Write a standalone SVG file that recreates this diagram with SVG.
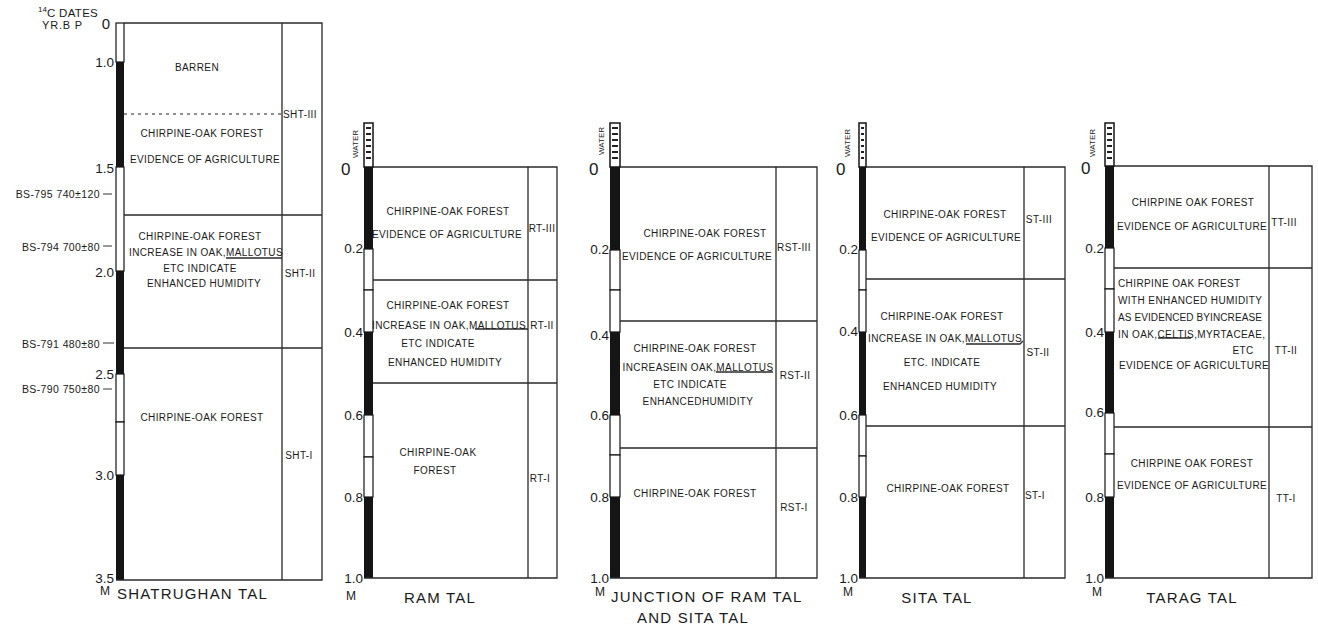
<svg xmlns="http://www.w3.org/2000/svg" width="1318" height="627" viewBox="0 0 1318 627">
<style>
.t{font-family:"Liberation Sans",Arial,sans-serif;font-size:10px;letter-spacing:0.4px;fill:#1a1a1a}
.m{text-anchor:middle}
.e{text-anchor:end}
.d{font-size:10.5px;letter-spacing:0.4px}
.ax{font-family:"Liberation Sans",Arial,sans-serif;font-size:13.5px;fill:#1a1a1a;text-anchor:end}
.z{font-family:"Liberation Sans",Arial,sans-serif;font-size:17px;fill:#1a1a1a}
.w{font-family:"Liberation Sans",Arial,sans-serif;font-size:8px;fill:#1a1a1a;text-anchor:middle}
.ttl{font-family:"Liberation Sans",Arial,sans-serif;font-size:15px;letter-spacing:1.2px;fill:#1a1a1a}
.ln{stroke:#2a2a2a;stroke-width:1.3;fill:none}
.blk{fill:#151515}
.wht{fill:#fff;stroke:#151515;stroke-width:1.2}
.cap{fill:#fff;stroke:#151515;stroke-width:1.5}
.tk{stroke:#333;stroke-width:1}
</style>
<rect width="1318" height="627" fill="#fff"/>

<!-- SHATRUGHAN TAL -->
<g id="shatrughan-tal">
  <text x="38" y="12" class="t" style="font-size:8px;letter-spacing:0">14</text>
  <text x="47" y="17" class="t" style="font-size:11.5px;letter-spacing:0.3px">C DATES</text>
  <text x="42" y="29" class="t" style="font-size:11px;letter-spacing:0.8px">YR.B P</text>
  <rect x="116" y="23" width="8" height="39" class="wht"/>
  <rect x="116" y="62" width="8" height="105" class="blk"/>
  <rect x="116" y="167" width="8" height="104" class="wht"/>
  <rect x="116" y="271" width="8" height="103" class="blk"/>
  <rect x="116" y="374" width="8" height="48" class="wht"/>
  <rect x="116" y="422" width="8" height="53" class="wht"/>
  <rect x="116" y="475" width="8" height="105" class="blk"/>
  <path class="ln" d="M124 23H322V580H116M282 23V580M124 215H322M124 348H322"/>
  <path d="M124 114H282" stroke="#222" stroke-width="1.2" stroke-dasharray="3 4"/>
  <path class="ln" d="M226 258H282"/>
  <text x="110" y="29" class="z" style="font-size:15px" text-anchor="end">0</text>
  <text x="114" y="67" class="ax">1.0</text>
  <text x="114" y="173" class="ax">1.5</text>
  <text x="114" y="277" class="ax">2.0</text>
  <text x="114" y="379" class="ax">2.5</text>
  <text x="114" y="480" class="ax">3.0</text>
  <text x="114" y="583" class="ax">3.5</text>
  <text x="100" y="198" class="t e d">BS-795 740±120</text>
  <path class="tk" d="M103 194H112"/>
  <text x="100" y="251" class="t e d">BS-794 700±80</text>
  <path class="tk" d="M103 246H112"/>
  <text x="100" y="348" class="t e d">BS-791   480±80</text>
  <path class="tk" d="M103 343H114"/>
  <text x="100" y="393" class="t e d">BS-790 750±80</text>
  <path class="tk" d="M103 389H112"/>
  <text x="197" y="71" class="t m">BARREN</text>
  <text x="202" y="137" class="t m">CHIRPINE-OAK FOREST</text>
  <text x="205" y="163" class="t m">EVIDENCE OF AGRICULTURE</text>
  <text x="300" y="118" class="t m">SHT-III</text>
  <text x="200" y="240" class="t m">CHIRPINE-OAK FOREST</text>
  <text x="206" y="256" class="t m">INCREASE IN OAK,MALLOTUS</text>
  <text x="200" y="272" class="t m">ETC INDICATE</text>
  <text x="204" y="287" class="t m">ENHANCED HUMIDITY</text>
  <text x="300" y="277" class="t m">SHT-II</text>
  <text x="202" y="421" class="t m">CHIRPINE-OAK FOREST</text>
  <text x="299" y="459" class="t m">SHT-I</text>
  <text x="100" y="595" class="t" style="font-size:12px">M</text>
  <text x="117" y="599" class="ttl">SHATRUGHAN  TAL</text>
</g>

<!-- RAM TAL -->
<g id="ram-tal">
  <rect x="364" y="123" width="9" height="44" class="cap"/>
  <path d="M366 128h5M366 134h5M366 140h5M366 146h5M366 152h5M366 158h5" stroke="#222" stroke-width="2"/>
  <rect x="364" y="167" width="9" height="82" class="blk"/>
  <rect x="364" y="249" width="9" height="41" class="wht"/>
  <rect x="364" y="290" width="9" height="42" class="wht"/>
  <rect x="364" y="332" width="9" height="83" class="blk"/>
  <rect x="364" y="415" width="9" height="42" class="wht"/>
  <rect x="364" y="457" width="9" height="40" class="wht"/>
  <rect x="364" y="497" width="9" height="81" class="blk"/>
  <path class="ln" d="M373 167H557V578H364M528 167V578M373 280H557M373 383H557"/>
  <path class="ln" d="M475 329H528"/>
  <text x="341" y="175" class="z">0</text>
  <text x="361" y="147" class="w" transform="rotate(-90 358 147)">WATER</text>
  <text x="363" y="253" class="ax">0.2</text>
  <text x="363" y="337" class="ax">0.4</text>
  <text x="363" y="420" class="ax">0.6</text>
  <text x="363" y="502" class="ax">0.8</text>
  <text x="363" y="583" class="ax">1.0</text>
  <text x="448" y="215" class="t m">CHIRPINE-OAK FOREST</text>
  <text x="447" y="238" class="t m">EVIDENCE OF AGRICULTURE</text>
  <text x="542" y="232" class="t m">RT-III</text>
  <text x="448" y="309" class="t m">CHIRPINE-OAK FOREST</text>
  <text x="449" y="329" class="t m">INCREASE IN OAK,MALLOTUS</text>
  <text x="542" y="329" class="t m">RT-II</text>
  <text x="438" y="347" class="t m">ETC INDICATE</text>
  <text x="445" y="366" class="t m">ENHANCED HUMIDITY</text>
  <text x="438" y="456" class="t m">CHIRPINE-OAK</text>
  <text x="435" y="474" class="t m">FOREST</text>
  <text x="540" y="482" class="t m">RT-I</text>
  <text x="346" y="600" class="t" style="font-size:12px">M</text>
  <text x="440" y="603" class="ttl m">RAM TAL</text>
</g>

<!-- JUNCTION OF RAM TAL AND SITA TAL -->
<g id="junction-tal">
  <rect x="610" y="123" width="10" height="44" class="cap"/>
  <path d="M612 128h6M612 134h6M612 140h6M612 146h6M612 152h6M612 158h6" stroke="#222" stroke-width="2"/>
  <rect x="610" y="167" width="10" height="83" class="blk"/>
  <rect x="610" y="250" width="10" height="40" class="wht"/>
  <rect x="610" y="290" width="10" height="42" class="wht"/>
  <rect x="610" y="332" width="10" height="83" class="blk"/>
  <rect x="610" y="415" width="10" height="40" class="wht"/>
  <rect x="610" y="455" width="10" height="42" class="wht"/>
  <rect x="610" y="497" width="10" height="81" class="blk"/>
  <path class="ln" d="M620 167H817V578H610M776 167V578M620 321H817M620 448H817"/>
  <path class="ln" d="M716 372H773"/>
  <text x="589" y="175" class="z">0</text>
  <text x="607" y="144" class="w" transform="rotate(-90 604 144)">WATER</text>
  <text x="609" y="254" class="ax">0.2</text>
  <text x="609" y="340" class="ax">0.4</text>
  <text x="609" y="420" class="ax">0.6</text>
  <text x="609" y="502" class="ax">0.8</text>
  <text x="609" y="583" class="ax">1.0</text>
  <text x="705" y="237" class="t m">CHIRPINE-OAK FOREST</text>
  <text x="697" y="260" class="t m">EVIDENCE OF AGRICULTURE</text>
  <text x="794" y="251" class="t m">RST-III</text>
  <text x="695" y="352" class="t m">CHIRPINE-OAK FOREST</text>
  <text x="698" y="371" class="t m">INCREASEIN OAK,MALLOTUS</text>
  <text x="795" y="379" class="t m">RST-II</text>
  <text x="690" y="388" class="t m">ETC INDICATE</text>
  <text x="698" y="405" class="t m">ENHANCEDHUMIDITY</text>
  <text x="695" y="497" class="t m">CHIRPINE-OAK FOREST</text>
  <text x="794" y="511" class="t m">RST-I</text>
  <text x="595" y="596" class="t" style="font-size:12px">M</text>
  <text x="611" y="602" class="ttl">JUNCTION OF RAM TAL</text>
  <text x="693" y="623" class="ttl m">AND SITA TAL</text>
</g>

<!-- SITA TAL -->
<g id="sita-tal">
  <rect x="859" y="123" width="7" height="44" class="cap"/>
  <path d="M861 128h3M861 134h3M861 140h3M861 146h3M861 152h3M861 158h3" stroke="#222" stroke-width="2"/>
  <rect x="859" y="167" width="7" height="83" class="blk"/>
  <rect x="859" y="250" width="7" height="40" class="wht"/>
  <rect x="859" y="290" width="7" height="42" class="wht"/>
  <rect x="859" y="332" width="7" height="83" class="blk"/>
  <rect x="859" y="415" width="7" height="41" class="wht"/>
  <rect x="859" y="456" width="7" height="41" class="wht"/>
  <rect x="859" y="497" width="7" height="81" class="blk"/>
  <path class="ln" d="M866 167H1065V578H859M1024 167V578M866 279H1065M866 426H1065"/>
  <path class="ln" d="M966 344H1020l3 -3"/>
  <text x="836" y="175" class="z">0</text>
  <text x="853" y="146" class="w" transform="rotate(-90 850 146)">WATER</text>
  <text x="858" y="254" class="ax">0.2</text>
  <text x="858" y="336" class="ax">0.4</text>
  <text x="858" y="420" class="ax">0.6</text>
  <text x="858" y="502" class="ax">0.8</text>
  <text x="858" y="583" class="ax">1.0</text>
  <text x="945" y="218" class="t m">CHIRPINE-OAK FOREST</text>
  <text x="946" y="241" class="t m">EVIDENCE OF AGRICULTURE</text>
  <text x="1039" y="223" class="t m">ST-III</text>
  <text x="942" y="320" class="t m">CHIRPINE-OAK FOREST</text>
  <text x="945" y="342" class="t m">INCREASE IN OAK,MALLOTUS</text>
  <text x="1038" y="356" class="t m">ST-II</text>
  <text x="942" y="366" class="t m">ETC. INDICATE</text>
  <text x="940" y="390" class="t m">ENHANCED HUMIDITY</text>
  <text x="948" y="492" class="t m">CHIRPINE-OAK FOREST</text>
  <text x="1035" y="499" class="t m">ST-I</text>
  <text x="843" y="596" class="t" style="font-size:12px">M</text>
  <text x="937" y="603" class="ttl m">SITA  TAL</text>
</g>

<!-- TARAG TAL -->
<g id="tarag-tal">
  <rect x="1105" y="123" width="9" height="43" class="cap"/>
  <path d="M1107 128h5M1107 134h5M1107 140h5M1107 146h5M1107 152h5M1107 158h5" stroke="#222" stroke-width="2"/>
  <rect x="1105" y="166" width="9" height="82" class="blk"/>
  <rect x="1105" y="248" width="9" height="41" class="wht"/>
  <rect x="1105" y="289" width="9" height="43" class="wht"/>
  <rect x="1105" y="332" width="9" height="81" class="blk"/>
  <rect x="1105" y="413" width="9" height="41" class="wht"/>
  <rect x="1105" y="454" width="9" height="43" class="wht"/>
  <rect x="1105" y="497" width="9" height="81" class="blk"/>
  <path class="ln" d="M1114 166H1312V578H1105M1269 166V578M1114 268H1312M1114 427H1312"/>
  <path class="ln" d="M1158 338H1191"/>
  <text x="1081" y="174" class="z">0</text>
  <text x="1098" y="146" class="w" transform="rotate(-90 1095 146)">WATER</text>
  <text x="1104" y="253" class="ax">0.2</text>
  <text x="1104" y="337" class="ax">0.4</text>
  <text x="1104" y="417" class="ax">0.6</text>
  <text x="1104" y="502" class="ax">0.8</text>
  <text x="1104" y="583" class="ax">1.0</text>
  <text x="1193" y="206" class="t m">CHIRPINE OAK FOREST</text>
  <text x="1192" y="230" class="t m">EVIDENCE OF AGRICULTURE</text>
  <text x="1284" y="226" class="t m">TT-III</text>
  <text x="1118" y="287" class="t">CHIRPINE OAK FOREST</text>
  <text x="1118" y="304" class="t">WITH ENHANCED HUMIDITY</text>
  <text x="1118" y="321" class="t" style="letter-spacing:0.1px">AS EVIDENCED BYINCREASE</text>
  <text x="1118" y="338" class="t">IN OAK,CELTIS,MYRTACEAE,</text>
  <text x="1243" y="354" class="t m">ETC</text>
  <text x="1286" y="354" class="t m">TT-II</text>
  <text x="1194" y="369" class="t m">EVIDENCE OF AGRICULTURE</text>
  <text x="1192" y="467" class="t m">CHIRPINE OAK FOREST</text>
  <text x="1192" y="489" class="t m">EVIDENCE OF AGRICULTURE</text>
  <text x="1286" y="502" class="t m">TT-I</text>
  <text x="1092" y="596" class="t" style="font-size:12px">M</text>
  <text x="1192" y="603" class="ttl m">TARAG TAL</text>
</g>
</svg>
